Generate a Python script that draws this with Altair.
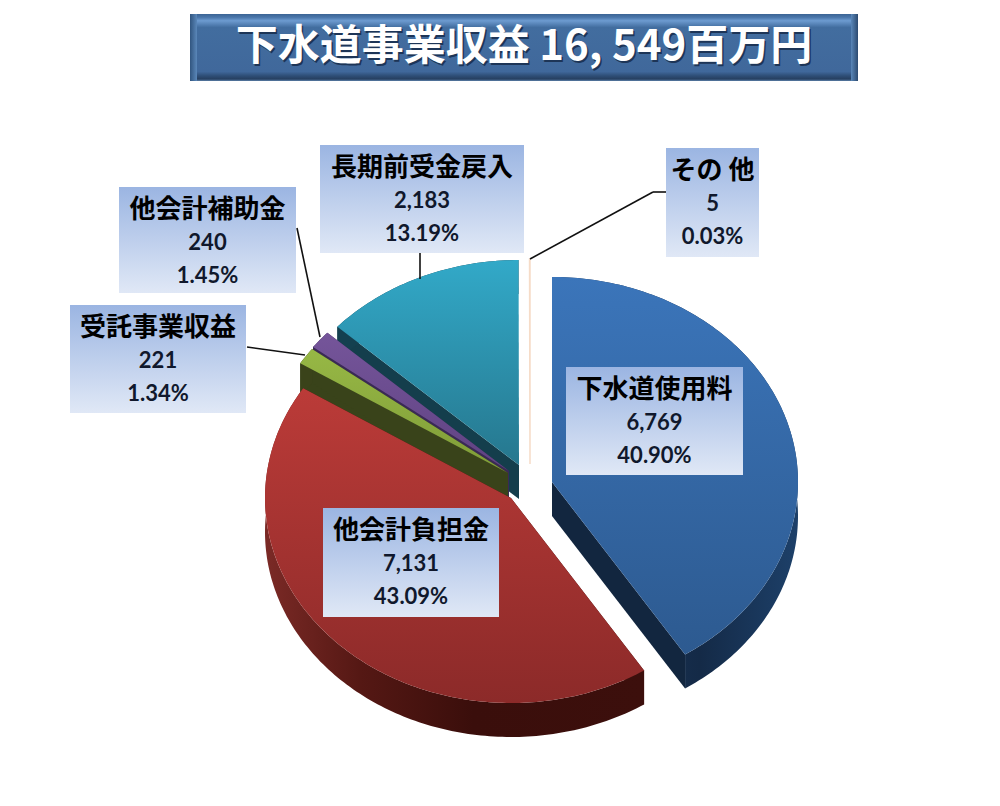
import math
import altair as alt

# ---- data ----
names = ["下水道使用料", "他会計負担金", "受託事業収益", "他会計補助金", "長期前受金戻入", "その 他"]
values = [6769, 7131, 221, 240, 2183, 5]
percents = ["40.90%", "43.09%", "1.34%", "1.45%", "13.19%", "0.03%"]
title_text = "下水道事業収益 16, 549百万円"

# ---- layout (image pixels) ----
M = 8
RX, RY, DEPTH = 246, 205, 34
centers = [(552, 482), (511, 498), (508, 473), (509, 471), (519, 465), (530, 464)]
boxes = [(566, 367, 743, 475), (323, 508, 499, 617), (70, 305, 246, 413),
         (119, 187, 296, 293), (320, 145, 524, 253), (666, 148, 759, 257)]
leaders = [[(420, 253), (420, 279)], [(297, 228), (320, 337)], [(247, 347), (305, 355)],
           [(666, 192), (653, 192)], [(653, 192), (530, 259)]]


def grad(stops, vertical=True):
    return alt.Gradient(
        gradient="linear",
        x1=0, y1=0, x2=0 if vertical else 1, y2=1 if vertical else 0,
        stops=[alt.GradientStop(offset=o, color=c) for o, c in stops],
    )


face = [
    grad([(0, "#3b75ba"), (1, "#2d5a90")]),
    grad([(0, "#bb3b38"), (1, "#8c2a29")]),
    grad([(0, "#97b845"), (1, "#7f9c38")]),
    grad([(0, "#75559a"), (1, "#5f4282")]),
    grad([(0, "#32a9c8"), (1, "#26778e")]),
    grad([(0, "#f6d6bd"), (1, "#f6e6da")]),
]
rim = [
    grad([(0, "#1b3a60"), (0.6, "#142a47"), (1, "#1d4069")], vertical=False),
    grad([(0, "#7b2a26"), (0.25, "#551814"), (0.55, "#3a0e0b"), (1, "#3c0f0c")], vertical=False),
    "#3a431a", "#3a2a55", "#14404f", "#f6e6da",
]
side = ["#12263f", "#3d0f0c", "#39431a", "#3a2a55", "#143e4c", "#f6e6da"]


def pt(c, a, dy=0):
    r = math.radians(a)
    return [c[0] + RX * math.sin(r) - M, c[1] - RY * math.cos(r) + dy - M]


def arc_pts(c, a0, a1, dy=0):
    n = max(2, int(abs(a1 - a0)) + 2)
    return [pt(c, a0 + (a1 - a0) * i / (n - 1), dy) for i in range(n)]


def feature(ring):
    ring = ring + [ring[0]]
    return {"type": "Feature", "properties": {}, "geometry": {"type": "Polygon", "coordinates": [ring]}}


proj = alt.Projection(type="identity", scale=1, translate=[0, 0])


def shape(features, fill, stroke=None, width=0):
    kw = {"fill": fill, "strokeWidth": width}
    kw["stroke"] = stroke if stroke else "transparent"
    return alt.Chart(alt.Data(values=features)).mark_geoshape(**kw).project(**proj.to_dict())


total = sum(values)
starts = []
acc = 0
for v in values:
    starts.append(acc / total * 360)
    acc += v
ends = starts[1:] + [360]

layers = []

# title plate
def rect(box, fill):
    x0, y0, x1, y1 = box
    return alt.Chart().mark_rect(fill=fill).encode(
        x=alt.value(x0 - M), x2=alt.value(x1 - M), y=alt.value(y0 - M), y2=alt.value(y1 - M))


layers.append(rect((190, 14, 858, 81), grad([
    (0, "#3b6494"), (0.05, "#4a76aa"), (0.1, "#6d9bd0"), (0.2, "#426d9f"),
    (0.86, "#40689b"), (0.92, "#2f4f78"), (0.97, "#263f60"), (1, "#5b7fa8")])))
layers.append(rect((190, 14, 197, 81), grad([(0, "#31557f"), (1, "#5a87b9")], vertical=False)))
layers.append(rect((851, 14, 858, 81), grad([(0, "#5a87b9"), (1, "#2c4a70")], vertical=False)))
for dx, col in [(1.5, "#1d3557"), (0, "#ffffff")]:
    layers.append(alt.Chart().mark_text(
        text=title_text, font="Noto Sans CJK JP", fontWeight="bold", fontSize=42,
        align="center", baseline="middle", fill=col,
    ).encode(x=alt.value(524 - M + dx), y=alt.value(47 - M + dx)))

# pie, back to front
for i in [4, 3, 2, 5, 1, 0]:
    c, a0, a1 = centers[i], starts[i], ends[i]
    walls = [
        feature([pt(c, 0, 0)[:0] or [c[0] - M, c[1] - M], pt(c, a0), pt(c, a0, DEPTH), [c[0] - M, c[1] - M + DEPTH]]),
        feature([[c[0] - M, c[1] - M], pt(c, a1), pt(c, a1, DEPTH), [c[0] - M, c[1] - M + DEPTH]]),
    ]
    if i != 5:
        layers.append(shape(walls, side[i]))
        layers.append(shape([feature(arc_pts(c, a0, a1) + arc_pts(c, a1, a0, DEPTH))], rim[i]))
    top = [feature([[c[0] - M, c[1] - M]] + arc_pts(c, a0, a1))]
    if i == 5:
        layers.append(shape(top, face[i], "#f6dcc8", 1.5))
    else:
        layers.append(shape(top, face[i]))

# leader lines
for (p, q) in leaders:
    layers.append(alt.Chart().mark_rule(color="#111111", strokeWidth=1.6).encode(
        x=alt.value(p[0] - M), x2=alt.value(q[0] - M), y=alt.value(p[1] - M), y2=alt.value(q[1] - M)))

# labels
for i, box in enumerate(boxes):
    layers.append(rect(box, grad([(0, "#9bb5e2"), (1, "#e0e8f6")])))
    xc = (box[0] + box[2]) / 2
    y0 = box[1]
    layers.append(alt.Chart().mark_text(
        text=names[i], font="Noto Sans CJK JP", fontWeight="bold", fontSize=26,
        align="center", baseline="middle", fill="#000000",
    ).encode(x=alt.value(xc - M), y=alt.value(y0 + 23 - M)))
    for text, off in [(f"{values[i]:,}", 56), (percents[i], 89)]:
        layers.append(alt.Chart().mark_text(
            text=text, font="Lato", fontWeight="bold", fontSize=22,
            align="center", baseline="middle", fill="#10182c",
        ).encode(x=alt.value(xc - M), y=alt.value(y0 + off - M)))

chart = alt.layer(*layers).properties(
    width=984, height=790, padding=0, autosize=alt.AutoSizeParams(type="none"),
    background="white",
).configure_view(stroke=None)

chart.save("out.html", embed_options={"renderer": "svg", "actions": False})
